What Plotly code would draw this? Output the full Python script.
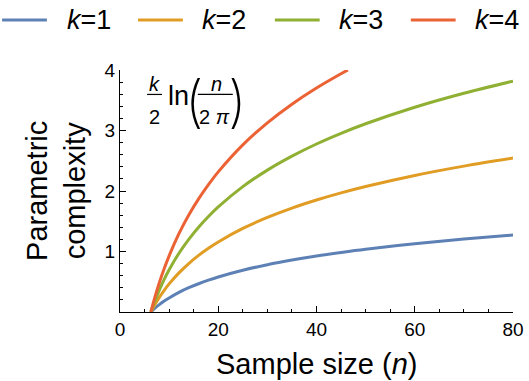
import plotly.graph_objects as go

# Sample sizes (n) and parametric complexity values
n_vals = [6.28, 7, 8, 9, 10, 12, 14, 16, 18, 20, 25, 30, 35, 40, 45, 50, 60, 70, 80]
k1_vals = [0, 0.054, 0.121, 0.180, 0.232, 0.324, 0.401, 0.467, 0.526, 0.579, 0.690, 0.782, 0.859, 0.926, 0.984, 1.037, 1.128, 1.205, 1.272]
k2_vals = [0, 0.108, 0.242, 0.359, 0.465, 0.647, 0.801, 0.935, 1.053, 1.158, 1.381, 1.563, 1.718, 1.851, 1.969, 2.074, 2.257, 2.411, 2.544]
k3_vals = [0, 0.162, 0.362, 0.539, 0.697, 0.971, 1.202, 1.402, 1.579, 1.737, 2.072, 2.345, 2.576, 2.777, 2.953, 3.111, 3.385, 3.616, 3.816]
n4_vals = [6.28, 7, 8, 9, 10, 12, 14, 16, 18, 20, 25, 30, 35, 40, 45, 46.4]
k4_vals = [0, 0.216, 0.483, 0.719, 0.929, 1.294, 1.602, 1.869, 2.105, 2.316, 2.762, 3.127, 3.435, 3.702, 3.938, 4.0]

series_names = ["<i>k</i>=1", "<i>k</i>=2", "<i>k</i>=3", "<i>k</i>=4"]
colors = ["#5E81B5", "#E19C24", "#8FB032", "#EB6235"]
x_ticks = [0, 20, 40, 60, 80]
y_ticks = [1, 2, 3, 4]

FONT = "Liberation Sans, Arial, sans-serif"

fig = go.Figure()
xs = [n_vals, n_vals, n_vals, n4_vals]
ys = [k1_vals, k2_vals, k3_vals, k4_vals]
for name, c, x, y in zip(series_names, colors, xs, ys):
    fig.add_trace(go.Scatter(x=x, y=y, mode="lines", name=name, showlegend=False,
                             line=dict(color=c, width=3, shape="spline"),
                             cliponaxis=False, hoverinfo="skip"))

axis_common = dict(showgrid=False, zeroline=False, showline=True, linecolor="black",
                   linewidth=1, ticks="inside", ticklen=6, tickcolor="black",
                   tickfont=dict(family=FONT, size=19, color="black"))

fig.update_xaxes(range=[0, 80], tickvals=x_ticks, **axis_common,
                 minor=dict(dtick=5, ticks="inside", ticklen=3, tickcolor="black"))
fig.update_yaxes(range=[0, 4], tickvals=y_ticks, **axis_common,
                 minor=dict(dtick=0.2, ticks="inside", ticklen=3, tickcolor="black"))

ann = []
def A(text, x, y, size, xanchor="center", family=FONT, weight=None, **kw):
    f = dict(family=family, size=size, color="black")
    if weight is not None:
        f["weight"] = weight
    ann.append(dict(text=text, x=x, y=y, xref="paper", yref="paper", showarrow=False,
                    xanchor=xanchor, yanchor="middle", font=f, **kw))

# Axis titles
A("Parametric<br>complexity", -0.163, 0.5, 29, textangle=-90)
A("Sample size (<i>n</i>)", 0.5, -0.213, 29)

# Formula: k/2 ln(n / 2π)
A("<i>k</i>", 0.087, 0.942, 20)
A("2", 0.087, 0.806, 20)
A("ln", 0.148, 0.893, 27)
A("(", 0.190, 0.872, 56, family="Inter", weight=200)
A(")", 0.298, 0.872, 56, family="Inter", weight=200)
A("<i>n</i>", 0.246, 0.944, 20)
A("2 <i>π</i>", 0.240, 0.806, 20)

# Legend (drawn manually to match spacing)
leg_line_x0 = [-0.300, 0.046, 0.394, 0.740]
leg_text_x = [-0.140, 0.204, 0.552, 0.898]
for name, c, x0, tx in zip(series_names, colors, leg_line_x0, leg_text_x):
    fig.add_shape(type="line", xref="paper", yref="paper", x0=x0, x1=x0 + 0.114,
                  y0=1.207, y1=1.207, line=dict(color=c, width=3))
    A(name, tx, 1.207, 27, xanchor="left")

fig.update_layout(annotations=ann)

fig.add_shape(type="line", xref="paper", yref="paper", x0=0.069, x1=0.107, y0=0.899, y1=0.899,
              line=dict(color="black", width=1.2))
fig.add_shape(type="line", xref="paper", yref="paper", x0=0.198, x1=0.287, y0=0.899, y1=0.899,
              line=dict(color="black", width=1.2))

fig.update_layout(
    width=529, height=381,
    margin=dict(l=120, r=16, t=70, b=69, autoexpand=False),
    paper_bgcolor="white", plot_bgcolor="white",
    font=dict(family=FONT, color="black"),
    showlegend=False,
)

fig.write_html("out.html", config={"displayModeBar": False, "staticPlot": True},
               post_script="document.body.style.margin='0';document.body.style.padding='0';document.body.style.overflow='hidden';")
